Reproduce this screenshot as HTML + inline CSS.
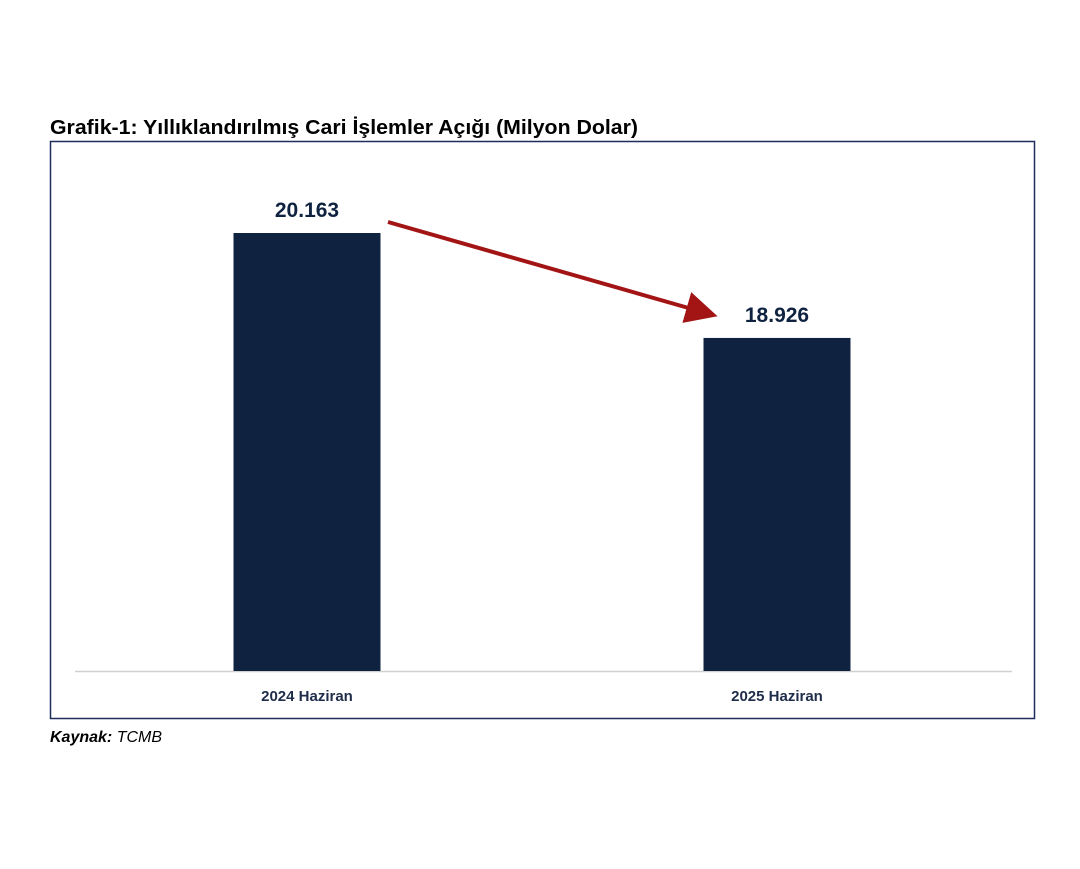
<!DOCTYPE html>
<html><head><meta charset="utf-8"><style>
body{margin:0;background:#fff;width:1080px;height:864px;overflow:hidden;font-family:"Liberation Sans",sans-serif;}
</style></head><body>
<svg width="1080" height="864" xmlns="http://www.w3.org/2000/svg">
<text x="50" y="134" font-size="20" font-weight="bold" fill="#000" textLength="588" lengthAdjust="spacingAndGlyphs">Grafik-1: Yıllıklandırılmış Cari İşlemler Açığı (Milyon Dolar)</text>
<rect x="50.5" y="141.5" width="984" height="577" fill="none" stroke="#1f2d5a" stroke-width="1.5"/>
<line x1="75" y1="671.5" x2="1012" y2="671.5" stroke="#d0d0d0" stroke-width="1.5"/>
<g id="bars"></g>
<defs><marker id="ah" markerWidth="8" markerHeight="8" refX="5" refY="4" orient="auto" markerUnits="strokeWidth"><path d="M0,0 L8,4 L0,8 z" fill="#a31515"/></marker></defs>
<line x1="388" y1="222" x2="706" y2="313" stroke="#a31515" stroke-width="4" marker-end="url(#ah)"/>
<text x="50" y="742" font-size="16" fill="#000" font-style="italic"><tspan font-weight="bold">Kaynak:</tspan> TCMB</text>
</svg>
<script>
const categories=["2024 Haziran","2025 Haziran"];
const values=[20163,18926];
const valueLabels=["20.163","18.926"];
const yMin=15000,yMax=21000;
const y0=671,y1=162;
function yScale(v){return y0-(v-yMin)/(yMax-yMin)*(y0-y1);}
function xCenter(i){return 307+i*470;}
const g=document.getElementById('bars');
const ns="http://www.w3.org/2000/svg";
categories.forEach((c,i)=>{
  const cx=xCenter(i),bw=147,yt=yScale(values[i]);
  const r=document.createElementNS(ns,'rect');
  r.setAttribute('x',cx-bw/2);r.setAttribute('y',yt);r.setAttribute('width',bw);r.setAttribute('height',y0-yt);r.setAttribute('fill','#0f2341');
  
  
  g.appendChild(r);
  const t=document.createElementNS(ns,'text');
  t.setAttribute('x',cx);t.setAttribute('y',yt-16);t.setAttribute('text-anchor','middle');t.setAttribute('font-size','21');t.setAttribute('font-weight','bold');t.setAttribute('fill','#0f2341');
  t.textContent=valueLabels[i];
  
  
  g.appendChild(t);
  const l=document.createElementNS(ns,'text');
  l.setAttribute('x',cx);l.setAttribute('y',701);l.setAttribute('text-anchor','middle');l.setAttribute('font-size','15');l.setAttribute('font-weight','bold');l.setAttribute('fill','#1f2d4a');
  l.textContent=c;
  
  
  g.appendChild(l);
});
</script>
</body></html>
